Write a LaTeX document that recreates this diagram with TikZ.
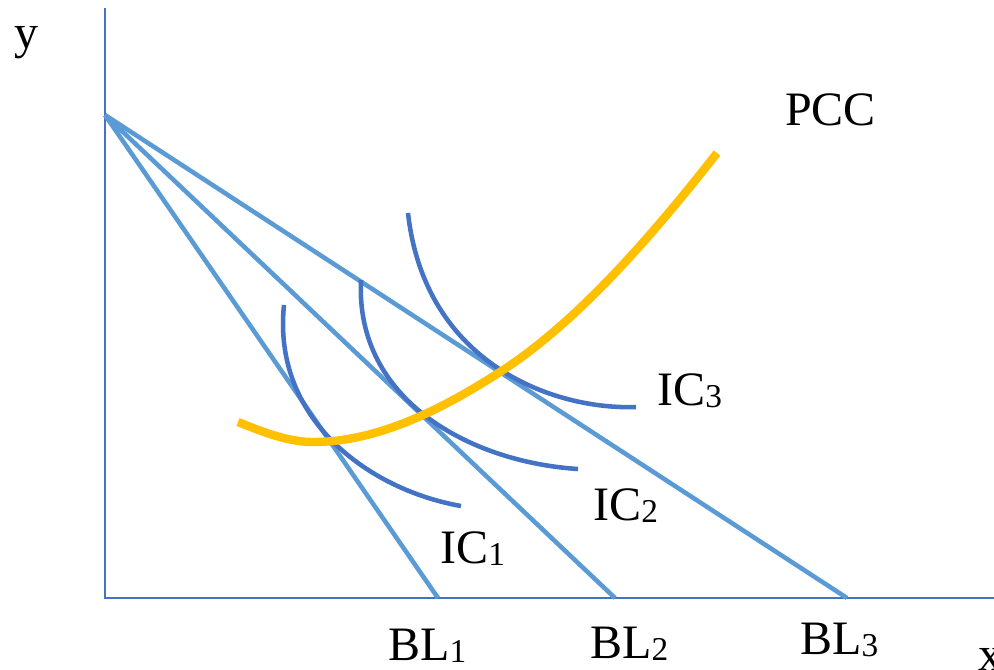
\documentclass[tikz,border=0pt]{standalone}
\usepackage{fontspec}
\setmainfont{Liberation Serif}
\newcommand{\sbs}[1]{\raisebox{-1.5pt}{\fontsize{25}{25}\selectfont #1}}
\tikzset{
  axisline/.style={line width=1.3pt, color={rgb,255:red,68;green,114;blue,196}},
  bline/.style={line width=3.4pt, color={rgb,255:red,91;green,155;blue,213}},
  icurve/.style={line width=3.4pt, color={rgb,255:red,68;green,114;blue,196}},
  pcc/.style={line width=6.3pt, color={rgb,255:red,255;green,192;blue,0}},
  lbl/.style={font=\fontsize{36}{36}\selectfont, anchor=base west, inner sep=0pt}
}
\begin{document}
\begin{tikzpicture}[x=0.75pt,y=-0.75pt]
\useasboundingbox (0,0) rectangle (994,669);
\fill[white] (0,0) rectangle (994,669);
% axes
\coordinate (O) at (105,598);
\coordinate (Ytop) at (105,8);
\coordinate (Xend) at (994,598);
\draw[axisline] (Ytop) -- (O) -- (Xend);
% budget lines
\coordinate (A) at (105,115);
\coordinate (B1) at (438,598);
\coordinate (B2) at (615,598);
\coordinate (B3) at (847,598);
\draw[bline] (A) -- (B1);
\draw[bline] (A) -- (B2);
\draw[bline] (A) -- (B3);
% indifference curves
\coordinate (I1s) at (284,305); \coordinate (I1e) at (461,506);
\coordinate (I2s) at (361,280); \coordinate (I2e) at (578,469);
\coordinate (I3s) at (408,213); \coordinate (I3e) at (636,407);
\draw[icurve] (I1s) .. controls (272,420) and (370,490) .. (I1e);
\draw[icurve] (I2s) .. controls (355,400) and (470,462) .. (I2e);
\draw[icurve] (I3s) .. controls (425,365) and (555,410) .. (I3e);
% PCC
\coordinate (P0) at (238,422);
\coordinate (P1) at (313,442);
\coordinate (P2) at (500,372);
\coordinate (P3) at (717,153);
\draw[pcc] (P0) .. controls (263,432) and (288,442) .. (P1)
  .. controls (375,442) and (438,412) .. (P2)
  .. controls (572,326) and (645,245) .. (P3);
% labels
\node[lbl] (ly) at (14,48) {y};
\node[lbl] (lx) at (978,670) {x};
\node[lbl] (lpcc) at (785,125) {PCC};
\node[lbl] (lic3) at (657,405) {IC\sbs{3}};
\node[lbl] (lic2) at (593,520) {IC\sbs{2}};
\node[lbl] (lic1) at (440,563) {IC\sbs{1}};
\node[lbl] (lbl1) at (388,660) {BL\sbs{1}};
\node[lbl] (lbl2) at (590,658) {BL\sbs{2}};
\node[lbl] (lbl3) at (800,654) {BL\sbs{3}};
\end{tikzpicture}
\end{document}
